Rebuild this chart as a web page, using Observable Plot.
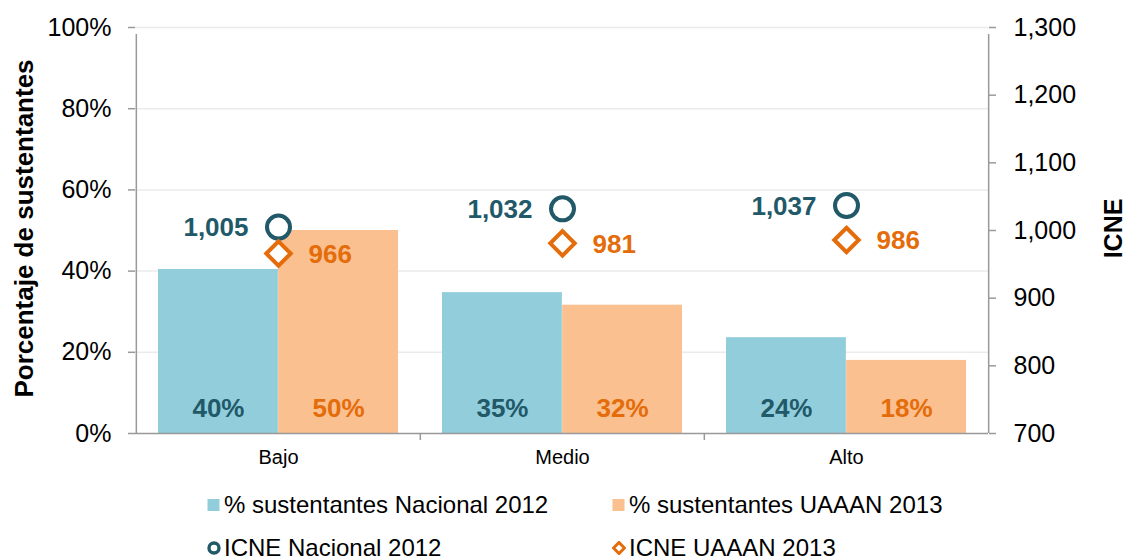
<!DOCTYPE html>
<html>
<head>
<meta charset="utf-8">
<script src="https://cdn.jsdelivr.net/npm/d3@7"></script>
<script src="https://cdn.jsdelivr.net/npm/@observablehq/plot@0.6"></script>
<style>
  html, body { margin: 0; padding: 0; background: #fff; }
  body { font-family: "Liberation Sans", Arial, sans-serif; width: 1126px; height: 559px; overflow: hidden; }
  #legend { position: relative; width: 1126px; height: 79px; }
  .item { position: absolute; display: flex; align-items: center; font-size: 24px; color: #000; white-space: nowrap; }
  .item svg { margin-right: 3px; }
</style>
</head>
<body>
<div id="chart"></div>
<div id="legend"></div>
<script>
// ---- data ----
const categories = ["Bajo", "Medio", "Alto"];
const pctNacional2012 = [0.404, 0.347, 0.236];
const pctUAAAN2013 = [0.50, 0.316, 0.18];
const icneNacional2012 = [1005, 1032, 1037];
const icneUAAAN2013 = [966, 981, 986];
const leftTicks = [0, 0.2, 0.4, 0.6, 0.8, 1.0];
const rightTicks = [700, 800, 900, 1000, 1100, 1200, 1300];
const seriesNames = ["% sustentantes Nacional 2012", "% sustentantes UAAAN 2013", "ICNE Nacional 2012", "ICNE UAAAN 2013"];
const yTitle = "Porcentaje de sustentantes";
const y2Title = "ICNE";

// ---- styling / layout ----
const colBlue = "#92cddc", colOrange = "#fac090";
const colTeal = "#215968", colDarkOrange = "#e46c0a";
const axisGray = "#999999";
const W = 1126, H = 480, ml = 135, mr = 138, mt = 27, mb = 47;
const pIn = 0.155;
const step = (W - ml - mr) / categories.length;
const bw = step * (1 - pIn);
const icneMin = 700, icneMax = 1300;
const toY = v => (v - icneMin) / (icneMax - icneMin);

const rows = categories.map((c, i) => ({
  cat: c,
  nac: pctNacional2012[i],
  uaa: pctUAAAN2013[i],
  icneN: icneNacional2012[i],
  icneU: icneUAAAN2013[i]
}));

const fmtPct = d3.format(".0%");
const fmtNum = d3.format(",");

const chart = Plot.plot({
  width: W, height: H,
  marginLeft: ml, marginRight: mr, marginTop: mt, marginBottom: mb,
  style: { fontFamily: "'Liberation Sans', Arial, sans-serif", background: "#fff", color: "#000" },
  x: { type: "band", domain: categories, paddingInner: pIn, paddingOuter: pIn / 2 },
  y: { domain: [0, 1] },
  marks: [
    // gridlines
    Plot.ruleY(leftTicks.filter(t => t > 0), { stroke: "#ebebeb", strokeWidth: 1.5 }),
    // bars
    Plot.barY(rows, { x: "cat", y: "nac", fill: colBlue, insetRight: bw / 2 }),
    Plot.barY(rows, { x: "cat", y: "uaa", fill: colOrange, insetLeft: bw / 2 }),
    // axis lines
    Plot.ruleY([0], { stroke: axisGray, strokeWidth: 1.5 }),
    Plot.ruleX([categories[0]], { x: d => d, y1: 0, y2: 1, dx: -step / 2, stroke: axisGray, strokeWidth: 1.5, insetBottom: -7 }),
    Plot.ruleX([categories[categories.length - 1]], { x: d => d, y1: 0, y2: 1, dx: step / 2, stroke: axisGray, strokeWidth: 1.5, insetBottom: -7 }),
    Plot.ruleX(categories.slice(1), { x: d => d, y1: 0, y2: 0, dx: -step / 2, stroke: axisGray, strokeWidth: 1.5, insetBottom: -7 }),
    // axes
    Plot.axisY({ anchor: "left", ticks: leftTicks, tickFormat: fmtPct, tickSize: 7, tickPadding: 17,
      fontSize: 25, stroke: axisGray, strokeWidth: 1.5, fill: "#000", label: null }),
    Plot.axisY({ anchor: "right", ticks: rightTicks.map(toY), tickFormat: t => fmtNum(Math.round(icneMin + t * (icneMax - icneMin))),
      tickSize: 7, tickPadding: 18, fontSize: 25, stroke: axisGray, strokeWidth: 1.5, fill: "#000", label: null }),
    Plot.axisX({ anchor: "bottom", tickSize: 0, tickPadding: 16, fontSize: 20, fill: "#000", label: null }),
    // axis titles
    Plot.text([yTitle], { text: d => d, frameAnchor: "left", textAnchor: "middle", rotate: -90, dx: -111, dy: -2, fontSize: 26, fontWeight: "bold", fill: "#000" }),
    Plot.text([y2Title], { text: d => d, frameAnchor: "right", textAnchor: "middle", rotate: -90, dx: 125, dy: -2, fontSize: 25, fontWeight: "bold", fill: "#000" }),
    // bar labels
    Plot.text(rows, { x: "cat", y: 0, text: d => fmtPct(d.nac), dx: -bw / 4, dy: -25, fontSize: 26, fontWeight: "bold", fill: colTeal }),
    Plot.text(rows, { x: "cat", y: 0, text: d => fmtPct(d.uaa), dx: bw / 4, dy: -25, fontSize: 26, fontWeight: "bold", fill: colDarkOrange }),
    // ICNE markers
    Plot.dot(rows, { x: "cat", y: d => toY(d.icneN), r: 11.5, symbol: "circle", stroke: colTeal, strokeWidth: 4, fill: "#fff" }),
    Plot.dot(rows, { x: "cat", y: d => toY(d.icneU), r: 11, symbol: "diamond2", stroke: colDarkOrange, strokeWidth: 4, fill: "#fff" }),
    Plot.text(rows, { x: "cat", y: d => toY(d.icneN), text: d => fmtNum(d.icneN), textAnchor: "end", dx: -30, dy: 1, fontSize: 26, fontWeight: "bold", fill: colTeal }),
    Plot.text(rows, { x: "cat", y: d => toY(d.icneU), text: d => fmtNum(d.icneU), textAnchor: "start", dx: 30, dy: 1, fontSize: 26, fontWeight: "bold", fill: colDarkOrange })
  ]
});
document.getElementById("chart").appendChild(chart);

// ---- legend ----
const legend = d3.select("#legend");
const items = [
  { name: seriesNames[0], kind: "rect", color: colBlue, left: 207, top: 25 },
  { name: seriesNames[1], kind: "rect", color: colOrange, left: 612, top: 25 },
  { name: seriesNames[2], kind: "circle", color: colTeal, left: 207, top: 68 },
  { name: seriesNames[3], kind: "diamond", color: colDarkOrange, left: 612, top: 68 }
];
items.forEach(it => {
  const div = legend.append("div").attr("class", "item")
    .style("left", it.left + "px").style("top", (it.top - 15) + "px").style("height", "30px");
  const s = div.append("svg").attr("width", 14).attr("height", 14);
  if (it.kind === "rect") s.append("rect").attr("x", 0.5).attr("y", 1).attr("width", 12).attr("height", 12).attr("fill", it.color);
  if (it.kind === "circle") s.append("circle").attr("cx", 7).attr("cy", 7).attr("r", 5).attr("fill", "#fff").attr("stroke", it.color).attr("stroke-width", 3.4);
  if (it.kind === "diamond") s.append("path").attr("d", "M7,1.5L12.5,7L7,12.5L1.5,7Z").attr("fill", "#fff").attr("stroke", it.color).attr("stroke-width", 3);
  div.append("span").text(it.name);
});
</script>
</body>
</html>
